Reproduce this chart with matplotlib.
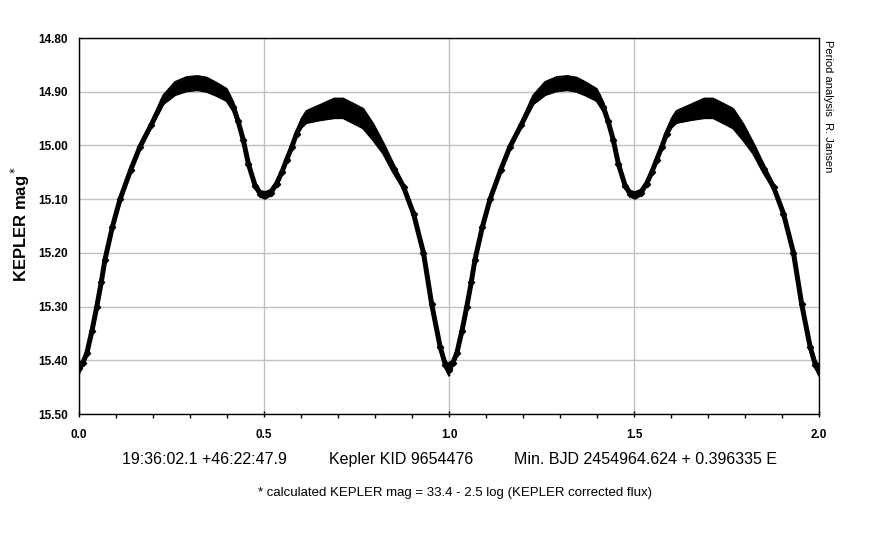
import matplotlib
matplotlib.use("Agg")
import matplotlib.pyplot as plt
import numpy as np

plt.rcParams['font.family'] = ['Liberation Sans', 'DejaVu Sans']

# phase (one cycle) and magnitude
phase = [0.000, 0.010, 0.021, 0.035, 0.048, 0.060, 0.070, 0.090, 0.111, 0.140,
         0.165, 0.195, 0.228, 0.260, 0.291, 0.320, 0.345, 0.370, 0.399, 0.417,
         0.430, 0.444, 0.458, 0.476, 0.490, 0.503, 0.518, 0.534, 0.548, 0.561,
         0.575, 0.588, 0.602, 0.615, 0.651, 0.690, 0.714, 0.740, 0.768, 0.795,
         0.822, 0.850, 0.877, 0.904, 0.931, 0.953, 0.976, 0.990, 1.000]
mag_center = [15.415, 15.405, 15.387, 15.345, 15.300, 15.255, 15.213, 15.152, 15.100, 15.045,
              15.002, 14.962, 14.915, 14.894, 14.886, 14.884, 14.887, 14.895, 14.906, 14.928,
              14.955, 14.990, 15.035, 15.075, 15.090, 15.093, 15.088, 15.071, 15.050, 15.027,
              15.003, 14.978, 14.958, 14.947, 14.939, 14.931, 14.931, 14.940, 14.950, 14.975,
              15.005, 15.043, 15.077, 15.127, 15.200, 15.295, 15.375, 15.408, 15.418]
mag_spread = [0.010, 0.004, 0.004, 0.004, 0.004, 0.004, 0.004, 0.004, 0.004, 0.004,
              0.004, 0.004, 0.008, 0.012, 0.013, 0.013, 0.013, 0.012, 0.011, 0.008,
              0.004, 0.004, 0.004, 0.004, 0.005, 0.006, 0.005, 0.004, 0.004, 0.004,
              0.004, 0.004, 0.008, 0.011, 0.014, 0.018, 0.018, 0.018, 0.018, 0.015,
              0.010, 0.008, 0.004, 0.004, 0.004, 0.004, 0.004, 0.006, 0.010]
cycles = [0, 1]

x_major = [0.0, 0.5, 1.0, 1.5, 2.0]
x_major_labels = ['0.0', '0.5', '1.0', '1.5', '2.0']
y_ticks = [14.80, 14.90, 15.00, 15.10, 15.20, 15.30, 15.40, 15.50]
y_labels = ['14.80', '14.90', '15.00', '15.10', '15.20', '15.30', '15.40', '15.50']

fig = plt.figure(figsize=(8.86, 5.34), dpi=100)
ax = fig.add_axes([0.0892, 0.2247, 0.8352, 0.7041])

ph = np.array(phase)
mc = np.array(mag_center)
ms = np.array(mag_spread)
for c in cycles:
    xx = ph + c
    ax.fill_between(xx, mc - ms, mc + ms, color='black', lw=0, zorder=3)
    ax.plot(xx, mc, color='black', lw=3.6, solid_capstyle='round',
            solid_joinstyle='round', zorder=4)
    ax.plot(xx, mc - ms, color='black', lw=1.6, zorder=4)
    ax.plot(xx, mc + ms, color='black', lw=1.6, zorder=4)
    ax.plot(xx, mc, linestyle='none', marker='D', ms=3.2, color='black', zorder=5)

ax.set_xlim(0, 2)
ax.set_ylim(15.50, 14.80)
ax.set_xticks(x_major)
ax.set_xticklabels(x_major_labels, fontsize=8.5, fontweight='bold')
ax.set_xticks(np.arange(0.1, 2.0, 0.1), minor=True)
ax.set_yticks(y_ticks)
ax.set_yticklabels(y_labels, fontsize=8.5, fontweight='bold')
ax.tick_params(axis='x', which='major', direction='inout', length=4, width=1, pad=8.5)
ax.tick_params(axis='x', which='minor', direction='out', length=2.8, width=1)
ax.tick_params(axis='y', which='both', length=0, pad=8)
ax.grid(True, which='major', color='#c0c0c0', lw=1)
ax.set_axisbelow(True)
for s in ax.spines.values():
    s.set_color('black')
    s.set_linewidth(1.0)

fig.text(0.0226, 0.580, 'KEPLER mag$^*$', rotation=90, ha='center', va='center',
         fontsize=12, fontweight='bold')
fig.text(0.9345, 0.925, 'Period analysis  R. Jansen', rotation=270, ha='center',
         va='top', fontsize=8)

fig.text(0.1377, 0.1386, '19:36:02.1 +46:22:47.9', ha='left', va='center', fontsize=11.5)
fig.text(0.3713, 0.1386, 'Kepler KID 9654476', ha='left', va='center', fontsize=11.5)
fig.text(0.5801, 0.1386, 'Min. BJD 2454964.624 + 0.396335 E', ha='left', va='center',
         fontsize=11.5)
fig.text(0.5135, 0.0777, '* calculated KEPLER mag = 33.4 - 2.5 log (KEPLER corrected flux)',
         ha='center', va='center', fontsize=9.5)

fig.savefig('out.png', dpi=100)
